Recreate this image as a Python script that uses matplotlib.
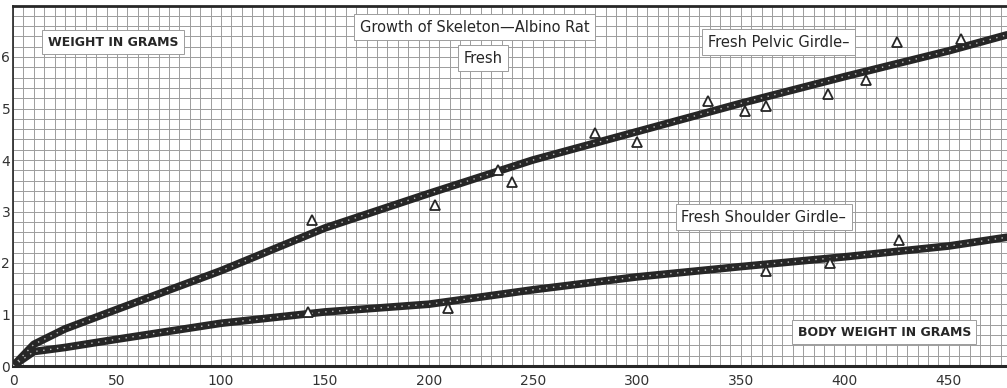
"""
Growth of skeleton in the albino rat: fresh girdle weight against body weight.
"""

import matplotlib.pyplot as plt
from matplotlib.ticker import MultipleLocator

# Smoothed curves (body weight g -> girdle weight g).
curve_x = [0, 10, 25, 50, 100, 150, 200, 250, 300, 350, 400, 450, 478]
pelvic_curve = [0.0, 0.42, 0.72, 1.1, 1.85, 2.68, 3.35, 4.0, 4.55, 5.1, 5.62, 6.12, 6.43]
shoulder_curve = [0.0, 0.28, 0.36, 0.52, 0.83, 1.05, 1.2, 1.48, 1.73, 1.93, 2.12, 2.33, 2.5]

# Observed points (open triangles).
pelvic_obs_x = [144, 203, 233, 240, 280, 300, 334, 352, 362, 392, 410, 425, 456]
pelvic_obs_y = [2.83, 3.13, 3.8, 3.57, 4.52, 4.35, 5.15, 4.95, 5.05, 5.28, 5.55, 6.3, 6.35]
shoulder_obs_x = [142, 209, 362, 393, 426]
shoulder_obs_y = [1.05, 1.13, 1.85, 2.0, 2.45]

x_ticks = [0, 50, 100, 150, 200, 250, 300, 350, 400, 450]
y_ticks = [0, 1, 2, 3, 4, 5, 6]

INK = "#262626"
GRID = "#9c9c9c"


def main() -> None:
    fig = plt.figure(figsize=(10.07, 3.88), dpi=100)
    ax = fig.add_axes([13 / 1007, 22 / 388, 1 - 13 / 1007, (366 - 5.5) / 388])
    ax.set_xlim(0, 478)
    ax.set_ylim(0, 7.0)

    # graph paper
    ax.xaxis.set_minor_locator(MultipleLocator(5))
    ax.yaxis.set_minor_locator(MultipleLocator(0.2))
    ax.grid(which="both", color=GRID, lw=0.7)
    ax.set_axisbelow(True)
    ax.set_xticks(x_ticks)
    ax.set_yticks(y_ticks)
    ax.tick_params(which="both", length=0, labelsize=10, colors="#333333")
    ax.tick_params(axis="x", pad=6)
    ax.tick_params(axis="y", pad=2)
    for side in ["left", "bottom", "top"]:
        ax.spines[side].set_color(INK)
    ax.spines["bottom"].set_linewidth(2.2)
    ax.spines["top"].set_linewidth(2.0)
    ax.spines["left"].set_linewidth(1.2)
    ax.spines["right"].set_visible(False)

    # thick hand-inked curves with a speckled highlight
    for ys in [pelvic_curve, shoulder_curve]:
        ax.plot(curve_x, ys, color=INK, lw=5.5, solid_capstyle="round", zorder=3)
        ax.plot(curve_x, ys, color="#bdbdbd", lw=1.0, ls=(0, (1, 4)), zorder=4)

    for xs, ys in [(pelvic_obs_x, pelvic_obs_y), (shoulder_obs_x, shoulder_obs_y)]:
        ax.plot(xs, ys, ls="none", marker="^", ms=7, mfc="white", mec=INK, mew=1.3, zorder=5)

    box = dict(facecolor="white", edgecolor=GRID, lw=0.7, pad=4)
    ax.text(48, 6.29, "WEIGHT IN GRAMS", ha="center", va="center", fontsize=9,
            fontweight="bold", color=INK, bbox=box, zorder=6)
    ax.text(222, 6.58, "Growth of Skeleton\u2014Albino Rat", ha="center", va="center",
            fontsize=10.5, color=INK, bbox=box, zorder=6)
    ax.text(226, 5.98, "Fresh", ha="center", va="center", fontsize=10.5, color=INK,
            bbox=box, zorder=6)
    ax.text(368, 6.29, "Fresh Pelvic Girdle\u2013", ha="center", va="center",
            fontsize=10.5, color=INK, bbox=box, zorder=6)
    ax.text(361, 2.89, "Fresh Shoulder Girdle\u2013", ha="center", va="center",
            fontsize=10.5, color=INK, bbox=box, zorder=6)
    ax.text(419, 0.66, "BODY WEIGHT IN GRAMS", ha="center", va="center", fontsize=9,
            fontweight="bold", color=INK, bbox=box, zorder=6)

    fig.savefig("out.png", dpi=100)
    plt.close(fig)


if __name__ == "__main__":
    main()
